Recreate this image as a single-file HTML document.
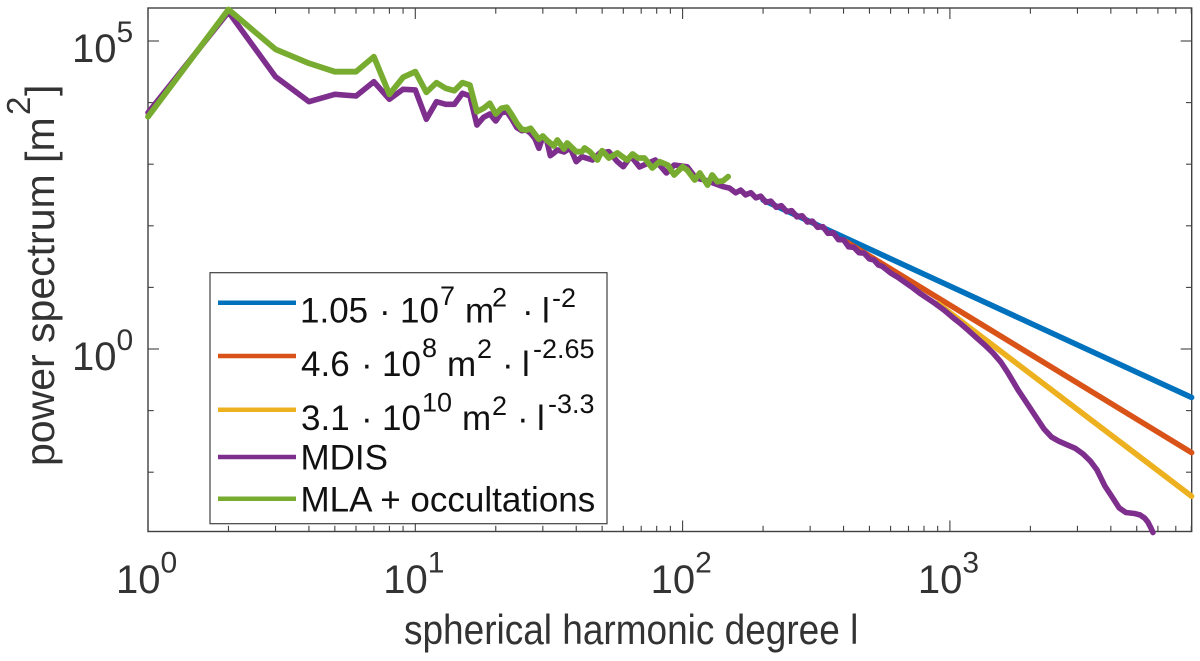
<!DOCTYPE html>
<html lang="en">
<head>
<meta charset="utf-8">
<title>Power spectrum</title>
<style>
  html, body { margin: 0; padding: 0; background: #fff; }
  svg { display: block; font-family: "Liberation Sans", Arial, sans-serif; }
</style>
</head>
<body>
<svg id="chart" xmlns="http://www.w3.org/2000/svg" width="1200" height="661" viewBox="0 0 1200 661">
  <rect x="0" y="0" width="1200" height="661" fill="#ffffff"/>
  <g id="axes"></g>
  <g id="series"></g>
  <text transform="translate(404,644) scale(1,1.12)" x="0" y="0" font-size="37" fill="#333">spherical harmonic degree l</text>
  <g transform="translate(54,466) rotate(-90)" fill="#333">
    <text x="0" y="0" font-size="41">power spectrum [m</text>
    <text x="351" y="-24" font-size="33">2</text>
    <text x="370" y="0" font-size="41">]</text>
  </g>
  <g>
    <rect x="210" y="272.7" width="397" height="251" fill="#fff" stroke="#404040" stroke-width="1.2"/>
    <g font-size="35" fill="#111">
      <line x1="218" x2="296" y1="302.7" y2="302.7" stroke="#0072BD" stroke-width="4.5"/>
      <text x="300" y="322.7">1.05</text><text x="379" y="322.7">·</text><text x="400" y="322.7">10</text>
      <text x="440" y="305" font-size="27">7</text><text x="465" y="322.7">m</text><text x="492" y="306.5" font-size="27">2</text>
      <text x="522" y="322.7">·</text><text x="542" y="322.7">l</text><text x="552" y="307" font-size="27">-2</text>
    </g>
    <g font-size="35" fill="#111">
      <line x1="218" x2="296" y1="356" y2="356" stroke="#D95319" stroke-width="4.5"/>
      <text x="301" y="376">4.6</text><text x="361" y="376">·</text><text x="382" y="376">10</text>
      <text x="422" y="357" font-size="27">8</text><text x="447" y="376">m</text><text x="477" y="358" font-size="27">2</text>
      <text x="502" y="376">·</text><text x="522" y="376">l</text><text x="533" y="358" font-size="27">-2.65</text>
    </g>
    <g font-size="35" fill="#111">
      <line x1="218" x2="296" y1="409.7" y2="409.7" stroke="#EDB120" stroke-width="4.5"/>
      <text x="301" y="430">3.1</text><text x="361" y="430">·</text><text x="382" y="430">10</text>
      <text x="422" y="411.7" font-size="27">10</text><text x="462" y="430">m</text><text x="492" y="415" font-size="27">2</text>
      <text x="517" y="430">·</text><text x="537" y="430">l</text><text x="548" y="413" font-size="27">-3.3</text>
    </g>
    <g font-size="35" fill="#111">
      <line x1="218" x2="296" y1="457" y2="457" stroke="#7E2F8E" stroke-width="4.5"/>
      <text x="300.5" y="469.3">MDIS</text>
    </g>
    <g font-size="35" fill="#111">
      <line x1="218" x2="296" y1="498.7" y2="498.7" stroke="#77AC30" stroke-width="4.5"/>
      <text x="300.5" y="511.7">MLA + occultations</text>
    </g>
  </g>
</svg>
<script>
// ---- Axis tick data ----
const xTickExponents = [0, 1, 2, 3];
const xMinorMultipliers = [2, 3, 4, 5, 6, 7, 8, 9];
const yTickExponents = [5, 4, 3, 2, 1, 0, -1, -2];
const yLabelExponents = [5, 0];

// ---- Series data: spherical harmonic degree, and log10 of power [m^2] ----
const fitADegrees = [200, 8020];
const fitALogPower = [2.419, -0.787];
const fitBDegrees = [400, 8020];
const fitBLogPower = [1.768, -1.683];
const fitCDegrees = [900, 8020];
const fitCLogPower = [0.741, -2.390];

const mdisDegrees = [1,2,3,4,5,6,7,8,9,10,11,12,13,14,15,16,17,18,19,20,21,22,23,24,25,26,27,28,29,30,31,32,33,34,36,38,40,42,46,49,53,57,60,64,69,79,87,93,104,112,121,130,142,150,158,165,172,180,188,196,205,214,224,234,245,256,268,280,293,306,320,335,350,366,383,400,418,437,457,478,500,520,540,560,600,640,680,720,770,820,880,950,1020,1100,1180,1260,1350,1450,1550,1650,1800,1950,2100,2250,2400,2550,2750,2950,3150,3350,3550,3800,4000,4300,4550,4900,5150,5350,5500,5650,5750];
const mdisLogPower = [3.836,5.471,4.420,4.015,4.135,4.107,4.339,4.054,4.216,4.205,3.729,4.015,3.972,3.972,4.151,4.107,3.636,3.761,3.815,3.701,3.836,3.852,3.729,3.593,3.544,3.555,3.502,3.420,3.258,3.446,3.393,3.138,3.182,3.231,3.198,3.263,3.041,3.122,3.068,3.182,3.203,3.041,2.959,3.133,2.955,3.068,2.857,2.987,2.959,2.776,2.744,2.695,2.635,2.611,2.535,2.579,2.502,2.538,2.454,2.481,2.381,2.400,2.300,2.327,2.230,2.246,2.145,2.163,2.061,2.075,1.975,1.986,1.877,1.889,1.775,1.775,1.658,1.651,1.563,1.554,1.462,1.445,1.364,1.339,1.234,1.161,1.080,1.006,0.909,0.828,0.739,0.633,0.519,0.406,0.292,0.179,0.065,-0.065,-0.211,-0.390,-0.666,-0.893,-1.104,-1.299,-1.429,-1.494,-1.558,-1.615,-1.705,-1.818,-1.964,-2.224,-2.370,-2.581,-2.654,-2.670,-2.695,-2.744,-2.808,-2.906,-2.979];

const mlaDegrees = [1,2,3,4,5,6,7,8,9,10,11,12,13,14,15,16,17,18,19,20,21,22,23,24,25,26,27,28,29,30,31,33,34,36,37,40,42,43,45,48,50,53,57,62,65,68,72,77,82,88,93,100,104,111,116,124,129,135,142,148];
const mlaLogPower = [3.771,5.511,4.865,4.638,4.502,4.502,4.745,4.135,4.411,4.502,4.167,4.323,4.232,4.193,4.323,4.286,3.852,3.907,3.989,3.815,3.907,3.924,3.799,3.664,3.567,3.555,3.583,3.490,3.404,3.458,3.393,3.295,3.393,3.247,3.344,3.203,3.203,3.263,3.203,3.068,3.219,3.101,3.182,3.068,3.166,3.101,3.101,2.938,3.041,2.987,2.825,2.959,2.906,2.744,2.857,2.662,2.825,2.716,2.732,2.797];

// ---- Axis functions ----
const NS = 'http://www.w3.org/2000/svg';
const plotLeft = 148, plotRight = 1191.7, plotTop = 8, plotBottom = 531.5;
const pxPerXDecade = 267.3, pxPerYDecade = 61.6, yZeroPx = 349;
function xScale(degree) { return plotLeft + pxPerXDecade * Math.log10(degree); }
function yScale(logPower) { return yZeroPx - pxPerYDecade * logPower; }

function makeSvg(tag, attrs) {
  const node = document.createElementNS(NS, tag);
  for (const key in attrs) node.setAttribute(key, attrs[key]);
  return node;
}

const axes = document.getElementById('axes');
const seriesGroup = document.getElementById('series');

// Plot box
const box = makeSvg('rect', { x: plotLeft, y: plotTop, width: plotRight - plotLeft, height: plotBottom - plotTop, fill: 'none', stroke: '#404040', 'stroke-width': 1.4 });


axes.appendChild(box);

function addTick(x1, y1, x2, y2, name) {
  const tick = makeSvg('line', { x1: x1, y1: y1, x2: x2, y2: y2, stroke: '#404040', 'stroke-width': 1.1 });
  
  
  axes.appendChild(tick);
}

function addPowerLabel(baseX, baseY, supX, supY, exponent, name) {
  const base = makeSvg('text', { x: baseX, y: baseY, 'font-size': 40, fill: '#333' });
  base.textContent = '10';
  
  
  axes.appendChild(base);
  const sup = makeSvg('text', { x: supX, y: supY, 'font-size': 30, fill: '#333' });
  sup.textContent = String(exponent);
  
  
  axes.appendChild(sup);
}

// X ticks
xTickExponents.forEach(function (exp) {
  const major = xScale(Math.pow(10, exp));
  addTick(major, plotBottom, major, plotBottom - 11, 'x-major-tick');
  addTick(major, plotTop, major, plotTop + 11, 'x-major-tick-top');
  addPowerLabel(major - 32, 593, major + 12.5, 572.7, exp, 'x-tick-label');
  xMinorMultipliers.forEach(function (m) {
    const degree = m * Math.pow(10, exp);
    const px = xScale(degree);
    if (px < plotRight) {
      addTick(px, plotBottom, px, plotBottom - 5.7, 'x-minor-tick');
      addTick(px, plotTop, px, plotTop + 5.7, 'x-minor-tick-top');
    }
  });
});

// Y ticks
yTickExponents.forEach(function (exp) {
  const py = yScale(exp);
  const len = yLabelExponents.indexOf(exp) >= 0 ? 11 : 5.7;
  addTick(plotLeft, py, plotLeft + len, py, 'y-tick');
  addTick(plotRight, py, plotRight - len, py, 'y-tick-right');
});
yLabelExponents.forEach(function (exp) {
  const py = yScale(exp);
  addPowerLabel(72, py + 21, 116.5, py + 1, exp, 'y-tick-label');
});

// Series
function drawSeries(degrees, logPowers, color, width, name) {
  const d = degrees.map(function (deg, i) {
    return (i ? 'L' : 'M') + xScale(deg).toFixed(2) + ' ' + yScale(logPowers[i]).toFixed(2);
  }).join(' ');
  const path = makeSvg('path', { d: d, fill: 'none', stroke: color, 'stroke-width': width, 'stroke-linejoin': 'round', 'stroke-linecap': 'round' });
  
  
  seriesGroup.appendChild(path);
}
drawSeries(fitADegrees, fitALogPower, '#0072BD', 5.6, 'line-fit-l-2');
drawSeries(fitBDegrees, fitBLogPower, '#D95319', 5.6, 'line-fit-l-2-65');
drawSeries(fitCDegrees, fitCLogPower, '#EDB120', 5.6, 'line-fit-l-3-3');
drawSeries(mdisDegrees, mdisLogPower, '#7E2F8E', 5.6, 'line-mdis');
drawSeries(mlaDegrees, mlaLogPower, '#77AC30', 5.8, 'line-mla-occultations');
</script>
</body>
</html>
